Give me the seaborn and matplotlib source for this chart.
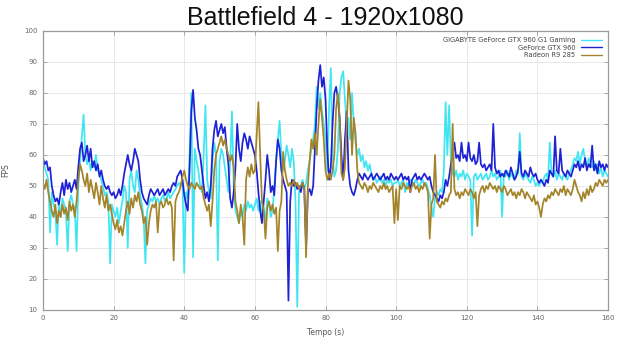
import matplotlib
matplotlib.use("Agg")
import matplotlib.pyplot as plt
import numpy as np
import pandas as pd
import seaborn as sns

# sample times: every 0.5 s from 0 to 160 s
time_s = np.arange(0, 160.5, 0.5)

series_names = ["GIGABYTE GeForce GTX 960 G1 Gaming", "GeForce GTX 960", "Radeon R9 285"]

fps_g1 = [
    58, 56, 54, 52, 35, 48, 44, 42, 31, 45, 40, 46, 44, 42, 29, 45, 47, 44, 43, 29,
    50, 58, 66, 73, 60, 57, 59, 55, 58, 56, 60, 55, 54, 52, 50, 47, 48, 45, 25, 44,
    42, 40, 43, 38, 42, 45, 50, 48, 30, 52, 55, 50, 48, 55, 52, 47, 44, 40, 25, 42,
    44, 46, 45, 47, 45, 46, 44, 46, 47, 45, 46, 48, 46, 47, 48, 49, 50, 51, 50, 52,
    22, 48, 46, 60, 80, 27, 62, 58, 55, 50, 48, 60, 76, 52, 48, 46, 58, 64, 60, 26,
    58, 62, 60, 56, 52, 48, 58, 74, 50, 42, 40, 38, 42, 40, 44, 42, 45, 43, 44, 42,
    44, 46, 42, 45, 40, 43, 38, 46, 44, 40, 42, 50, 58, 65, 71, 60, 55, 58, 63, 60,
    56, 62, 58, 45, 11, 48, 50, 52, 49, 51, 55, 58, 62, 65, 70, 82, 75, 80, 74, 70,
    65, 55, 75, 88, 60, 53, 55, 62, 80, 85, 87, 78, 70, 72, 65, 80, 70, 64, 60, 62,
    58, 60, 56, 58, 55, 57, 54, 52, 53, 51, 52, 53, 51, 52, 50, 52, 51, 52, 50, 51,
    51, 52, 50, 51, 52, 48, 51, 50, 52, 51, 50, 52, 51, 50, 51, 52, 50, 51, 49, 47,
    43, 40, 46, 48, 47, 49, 48, 55, 77, 60, 76, 58, 54, 53, 55, 52, 54, 53, 55, 52,
    54, 53, 52, 34, 53, 54, 52, 53, 54, 52, 53, 54, 52, 53, 55, 53, 54, 52, 53, 55,
    40, 54, 53, 55, 52, 54, 53, 52, 55, 54, 67, 53, 52, 54, 53, 52, 51, 53, 52, 50,
    51, 50, 52, 51, 53, 54, 52, 64, 54, 53, 55, 52, 54, 53, 52, 54, 53, 52, 54, 55,
    57, 59, 58, 61, 57, 60, 62, 58, 56, 59, 57, 56, 58, 55, 57, 54, 56, 53, 55, 54,
    53,
]

fps_960 = [
    59, 57, 58, 55, 56, 50, 47, 45, 46, 44, 48, 51, 47, 52, 49, 51, 48, 50, 52, 49,
    56, 62, 64, 58, 60, 63, 58, 62, 56, 58, 55, 57, 53, 55, 52, 50, 49, 50, 48, 47,
    48, 46, 47, 49, 47, 50, 54, 57, 60, 57, 55, 58, 62, 60, 58, 52, 48, 46, 45, 44,
    47, 49, 48, 47, 48, 49, 47, 48, 49, 47, 48, 49, 48, 50, 51, 50, 53, 54, 55, 52,
    47, 44, 42, 55, 74, 81, 72, 68, 62, 60, 55, 50, 46, 48, 45, 50, 62, 68, 71, 66,
    68, 70, 67, 69, 62, 57, 46, 43, 48, 56, 70, 62, 58, 64, 67, 65, 62, 66, 64, 62,
    60, 55, 48, 42, 38, 45, 52, 60, 55, 48, 50, 47, 58, 65, 62, 55, 52, 50, 48, 13,
    45, 52, 50, 51, 49, 50, 48, 51, 49, 30, 48, 49, 47, 50, 62, 75, 84, 89, 82, 85,
    78, 62, 52, 56, 70, 80, 82, 78, 72, 60, 52, 65, 74, 55, 50, 48, 47, 49, 52, 54,
    53, 52, 54, 53, 52, 53, 54, 52, 53, 54, 53, 52, 53, 54, 52, 53, 52, 54, 53, 52,
    53, 52, 53, 54, 52, 53, 52, 53, 48, 52, 53, 54, 52, 53, 52, 53, 54, 53, 52, 53,
    50, 48, 47, 46, 45, 47, 46, 48, 52, 50, 53, 57, 60, 64, 59, 60, 58, 64, 59, 60,
    58, 64, 59, 58, 60, 57, 58, 64, 57, 56, 57, 55, 56, 57, 55, 70, 56, 54, 55, 53,
    54, 53, 55, 54, 53, 56, 54, 52, 53, 55, 61, 54, 53, 55, 54, 53, 56, 54, 53, 54,
    52, 51, 52, 51, 50, 52, 51, 55, 54, 53, 66, 55, 54, 62, 55, 54, 53, 55, 54, 53,
    55, 57, 56, 58, 55, 57, 56, 59, 55, 57, 56, 63, 55, 57, 54, 58, 56, 57, 55, 57,
    56,
]

fps_r9 = [
    51, 49, 52, 48, 45, 42, 40, 44, 38, 42, 40, 44, 41, 43, 39, 45, 42, 44, 40, 45,
    52, 57, 55, 52, 50, 54, 48, 52, 49, 46, 51, 48, 44, 50, 46, 43, 47, 42, 44, 41,
    38, 36, 39, 35, 37, 34, 38, 42, 45, 41, 46, 43, 47, 45, 48, 44, 42, 38, 40, 31,
    38, 42, 44, 43, 45, 35, 44, 45, 43, 44, 46, 44, 45, 43, 26, 45, 47, 48, 50, 53,
    55, 52, 50, 49, 51, 50, 49, 51, 50, 49, 50, 46, 44, 42, 44, 37, 45, 55, 60, 62,
    64, 66, 63, 65, 62, 60, 58, 60, 56, 45, 42, 38, 44, 40, 31, 52, 56, 53, 57, 54,
    55, 66, 77, 60, 45, 42, 33, 43, 45, 42, 44, 41, 43, 29, 42, 45, 61, 55, 52, 50,
    51, 50, 52, 50, 51, 49, 50, 51, 49, 27, 50, 58, 65, 62, 67, 60, 70, 78, 72, 65,
    55, 52, 54, 52, 55, 60, 75, 80, 72, 54, 52, 56, 70, 84, 78, 60, 72, 67, 55, 51,
    50, 49, 51, 50, 48, 50, 49, 51, 50, 49, 48, 50, 49, 51, 49, 50, 48, 49, 50, 38,
    49, 39, 50, 49, 51, 50, 49, 50, 48, 50, 51, 49, 50, 48, 50, 49, 51, 50, 48, 33,
    44, 46, 60, 45, 44, 43, 45, 44, 46, 45, 47, 48, 70, 49, 47, 48, 46, 48, 47, 49,
    48, 47, 49, 48, 46, 48, 37, 47, 49, 50, 48, 50, 49, 51, 50, 49, 50, 48, 50, 49,
    48, 50, 49, 47, 48, 49, 47, 48, 46, 48, 47, 49, 48, 46, 48, 47, 46, 45, 47, 44,
    45, 43, 40, 44, 46, 45, 47, 46, 48, 47, 49, 48, 47, 49, 48, 50, 47, 49, 48, 47,
    49, 52, 50, 48, 47, 45, 48, 46, 49, 47, 50, 48, 49, 51, 50, 52, 51, 50, 52, 51,
    52,
]

colors = ["#3fe6f2", "#1e22d4", "#a3842a"]

df = pd.concat([
    pd.DataFrame({"Tempo (s)": time_s, "FPS": vals, "scheda": name})
    for name, vals in zip(series_names, [fps_g1, fps_960, fps_r9])
])

sns.set_theme(style="whitegrid")
plt.rcParams["font.family"] = ["DejaVu Sans"]

fig = plt.figure(figsize=(6.23, 3.44), dpi=100)
ax = fig.add_axes([0.069, 0.099, 0.907, 0.811])

sns.lineplot(data=df, x="Tempo (s)", y="FPS", hue="scheda",
             palette=dict(zip(series_names, colors)), estimator=None,
             linewidth=1.25, ax=ax)

ax.set_xlim(0, 160)
ax.set_ylim(10, 100)
ax.set_xticks(range(0, 161, 20))
ax.set_yticks(range(10, 101, 10))
ax.grid(True, color="#e4e4e4", linewidth=0.6)
for s in ax.spines.values():
    s.set_color("#9a9a9a")
    s.set_linewidth(0.9)
ax.tick_params(direction="in", length=3, width=0.6, color="#9a9a9a",
               labelsize=5, labelcolor="#666666", top=True, right=True,
               bottom=True, left=True, pad=4)
ax.set_xlabel("Tempo (s)", fontsize=5.5, color="#555555", labelpad=5)
ax.set_ylabel("FPS", fontsize=5.5, color="#555555", labelpad=10)
ax.set_title("Battlefield 4 - 1920x1080", fontsize=18,
             family=["Liberation Sans", "DejaVu Sans"], color="#111111", pad=4)

h, l = ax.get_legend_handles_labels()
for hh in h:
    hh.set_linewidth(1.0)
ax.legend(h, l, loc="upper right", frameon=False, markerfirst=False,
          fontsize=4.8, labelcolor="#444444", handlelength=3.2,
          labelspacing=0.25, borderaxespad=0.5)

fig.savefig("out.png", dpi=100)
